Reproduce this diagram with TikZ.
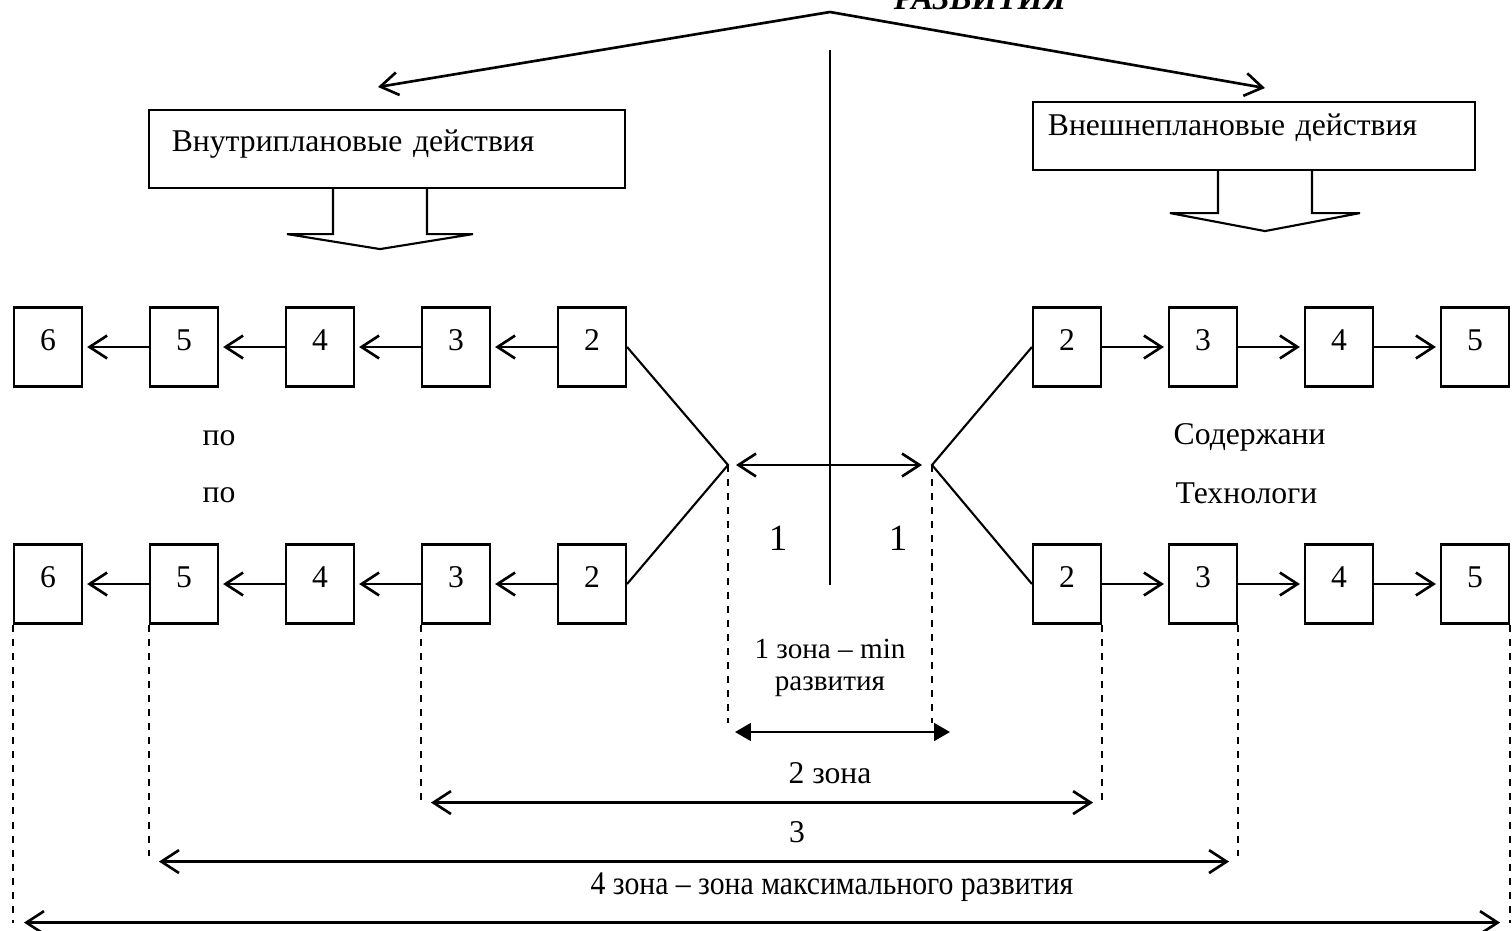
\documentclass[tikz,border=0pt]{standalone}
\usepackage{fontspec}
\setmainfont{Liberation Serif}
\newfontfamily\narrowfont[FakeStretch=0.9]{Liberation Serif}
\usepackage{tikz}
\usetikzlibrary{arrows.meta,calc,positioning}
\tikzstyle{stage} = [rectangle, draw=black, line width=0.6pt, minimum width=0.68cm, minimum height=0.79cm, text depth=0.14cm, inner sep=0pt]
\tikzstyle{plan} = [rectangle, draw=black, line width=0.6pt, align=left, text depth=0.17cm]
\tikzstyle{link} = [black, draw, line width=0.75pt, ->, shorten >=0.04cm]
\tikzstyle{guide} = [black, draw, line width=0.5pt, dash pattern=on 2pt off 2pt]

\begin{document}
\begin{tikzpicture}[x=0.01cm, y=-0.01cm, node distance=0.658cm,
    >={Straight Barb[length=5pt,width=6.5pt]},
    font=\fontsize{9pt}{11pt}\selectfont]
            \useasboundingbox (0,0) rectangle (1512,930);

            \node[anchor=base, font=\fontsize{9.4pt}{11pt}\selectfont\bfseries\itshape] (Title) at (980,9) {РАЗВИТИЯ};
            \coordinate (Peak) at (830,12);
            \coordinate (InTip) at (378,87);
            \coordinate (OutTip) at (1265,88);
            \draw[<->, line width=0.75pt] (InTip) -- (Peak) -- (OutTip);

            % plan boxes
            \node[plan, text width=4.30cm, inner xsep=0.23cm, minimum height=0.78cm] (InPlan) at (387,149) {Внутриплановые действия};
            \node[plan, text width=4.12cm, inner xsep=0.15cm, minimum height=0.68cm, text depth=0.22cm] (OutPlan) at (1254,136) {Внешнеплановые действия};
            \path
                [black, draw, line width=0.6pt]
                ($(InPlan.south)+(-54,0)$) -- ++(0,45) -- ++(-46,0) -- ++(93,15) -- ++(93,-15) -- ++(-46,0) -- ++(0,-45)
                ($(OutPlan.south)+(-36,0)$) -- ++(0,42) -- ++(-48,0) -- ++(95,18) -- ++(95,-18) -- ++(-48,0) -- ++(0,-42);

            % left rows
            \node[stage] (UL2) at (592,347) {2};
            \node[stage, left=of UL2] (UL3) {3};
            \node[stage, left=of UL3] (UL4) {4};
            \node[stage, left=of UL4] (UL5) {5};
            \node[stage, left=of UL5] (UL6) {6};
            \node[stage] (LL2) at (592,584) {2};
            \node[stage, left=of LL2] (LL3) {3};
            \node[stage, left=of LL3] (LL4) {4};
            \node[stage, left=of LL4] (LL5) {5};
            \node[stage, left=of LL5] (LL6) {6};

            % right rows
            \node[stage] (UR2) at (1067,347) {2};
            \node[stage, right=of UR2] (UR3) {3};
            \node[stage, right=of UR3] (UR4) {4};
            \node[stage, right=of UR4] (UR5) {5};
            \node[stage] (LR2) at (1067,584) {2};
            \node[stage, right=of LR2] (LR3) {3};
            \node[stage, right=of LR3] (LR4) {4};
            \node[stage, right=of LR4] (LR5) {5};

            \draw[link] (UL2) -- (UL3);
            \draw[link] (UL3) -- (UL4);
            \draw[link] (UL4) -- (UL5);
            \draw[link] (UL5) -- (UL6);
            \draw[link] (LL2) -- (LL3);
            \draw[link] (LL3) -- (LL4);
            \draw[link] (LL4) -- (LL5);
            \draw[link] (LL5) -- (LL6);
            \draw[link] (UR2) -- (UR3);
            \draw[link] (UR3) -- (UR4);
            \draw[link] (UR4) -- (UR5);
            \draw[link] (LR2) -- (LR3);
            \draw[link] (LR3) -- (LR4);
            \draw[link] (LR4) -- (LR5);

            \node (PoA) at (219,438) {по};
            \node (PoB) at (219,495) {по};
            \node[anchor=west, inner xsep=0pt] (Content) at (1173,437) {Содержани};
            \node[anchor=west, inner xsep=0pt] (Techno) at (1175,493) {Технологи};

            % centre
            \coordinate (Axis) at (830,50);
            \coordinate (AxisEnd) at (830,585);
            \coordinate (LMeet) at (728,465);
            \coordinate (RMeet) at (932,465);
            \path
                [black, draw, line width=0.6pt]
                (UL2.east) -- (LMeet) -- (LL2.east)
                (UR2.west) -- (RMeet) -- (LR2.west);
            \draw[line width=0.5pt] (Axis) -- (AxisEnd);
            \draw[<->, line width=0.75pt, shorten <=0.08cm, shorten >=0.1cm] (LMeet) -- (RMeet);
            \node[font=\fontsize{10.5pt}{12pt}\selectfont] (OneL) at (778,538) {1};
            \node[font=\fontsize{10.5pt}{12pt}\selectfont] (OneR) at (898,538) {1};

            % zones
            \path
                [guide]
                (LMeet) -- ++(0,258)
                (RMeet) -- ++(0,258)
                (LL3.south west) -- ++(0,176)
                (LR2.south east) -- ++(0,176)
                (LL5.south west) -- ++(0,231)
                (LR3.south east) -- ++(0,231)
                (LL6.south west) -- ++(0,298)
                (LR5.south east) -- ++(0,298);
            \node[align=center, font=\fontsize{8.3pt}{9.1pt}\selectfont] (ZoneOne) at (830,668) {1 зона – min\\развития};
            \coordinate (ZOneA) at (735,732);
            \coordinate (ZOneB) at (950,732);
            \draw[{Triangle[length=4.5pt,width=5pt]}-{Triangle[length=4.5pt,width=5pt]}, line width=0.75pt] (ZOneA) -- (ZOneB);
            \draw[<->, line width=0.75pt] ($(LL3.south west)+(10,178)$) -- ($(LR2.south east)+(-9,178)$);
            \draw[<->, line width=0.75pt] ($(LL5.south west)+(10,237)$) -- ($(LR3.south east)+(-9,237)$);
            \draw[<->, line width=0.75pt] ($(LL6.south west)+(11,298)$) -- ($(LR5.south east)+(-10,298)$);
            \node (ZoneTwo) at (830,773) {2 зона};
            \node (ZoneThree) at (797,832) {3};
            \node[font=\fontsize{9.4pt}{11pt}\narrowfont] (ZoneFour) at (832,887) {4 зона – зона максимального развития};

        \end{tikzpicture}
\end{document}
